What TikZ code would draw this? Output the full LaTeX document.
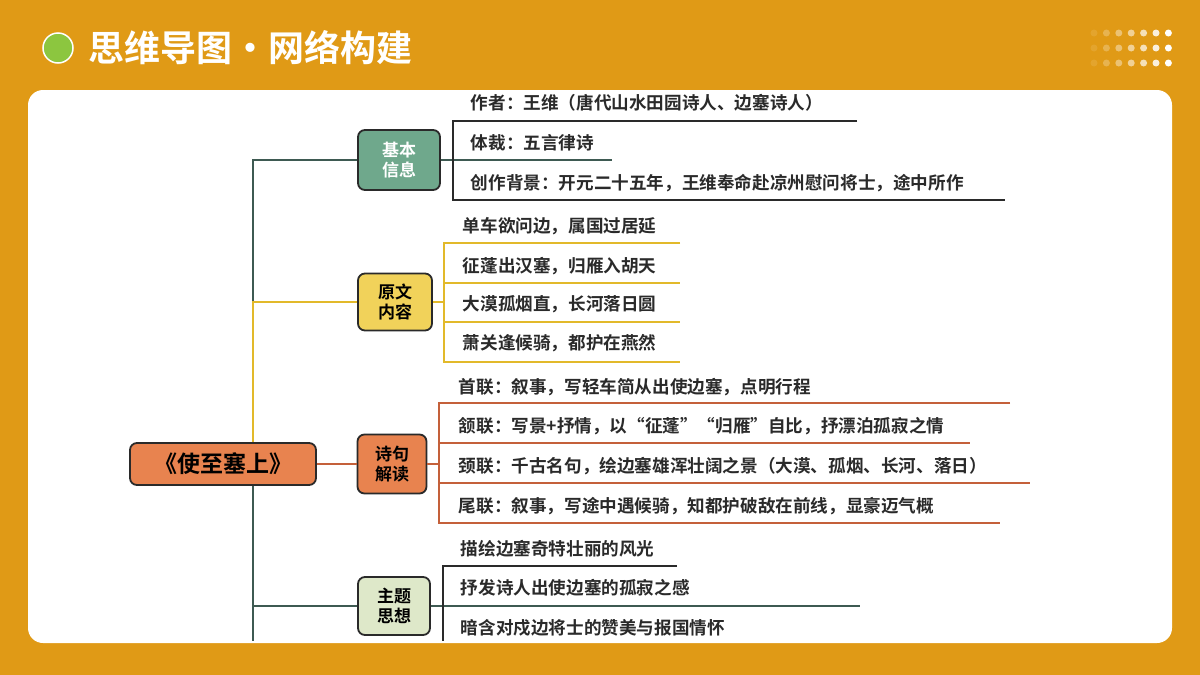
\documentclass[tikz,border=0pt]{standalone}
\usepackage{fontspec}
\setmainfont{Noto Sans CJK SC Bold}
\usetikzlibrary{positioning}
\definecolor{bgorange}{HTML}{E09A16}
\definecolor{infogreen}{HTML}{6FA88C}
\definecolor{textyellow}{HTML}{F1D25A}
\definecolor{readorange}{HTML}{E8834F}
\definecolor{themegreen}{HTML}{DEE8C9}
\definecolor{trunkgray}{HTML}{3E5A52}
\definecolor{lineyellow}{HTML}{E2B92A}
\definecolor{linered}{HTML}{C4603A}
\definecolor{inkdark}{HTML}{2A2A2A}
\definecolor{dotgreen}{HTML}{8CC63F}

\begin{document}
\begin{tikzpicture}[x=1pt,y=-1pt,line width=1.6pt]
  \tikzstyle{branch}=[draw=inkdark,line width=1.8pt,rounded corners=7pt,align=center,font=\fontsize{17}{20}\selectfont,inner sep=0pt]
  \tikzstyle{item}=[anchor=west,font=\fontsize{17.6}{20}\selectfont,text=inkdark,inner sep=0pt]

  \useasboundingbox (0,0) rectangle (1200,675);
  \fill[bgorange] (0,0) rectangle (1200,675);
  \fill[white,rounded corners=15pt] (28,90) rectangle (1172,643);

  % title bar
  \node[circle,fill=dotgreen,draw=white,line width=1.5pt,minimum size=30pt] (dot) at (58,48) {};
  \node[anchor=west,text=white,font=\fontsize{36}{40}\selectfont,inner sep=0pt] (title) at (88,48) {思维导图·网络构建};
  \foreach \i in {0,...,6}
    \foreach \j in {0,1,2}
      \fill[white,opacity=0.1+0.15*\i] (1094+12.4*\i,33+15*\j) circle (3.5pt);

  % root and branches
  \node[branch,fill=readorange,minimum width=186pt,minimum height=42pt,font=\fontsize{23}{26}\selectfont] (root) at (223,464) {《使至塞上》};
  \node[branch,fill=infogreen,text=white,minimum width=82pt,minimum height=60pt] (info) at (399,160) {基本\\信息};
  \node[branch,fill=textyellow,minimum width=74pt,minimum height=57pt] (text) at (395,302) {原文\\内容};
  \node[branch,fill=readorange,minimum width=69pt,minimum height=59pt] (read) at (392,464) {诗句\\解读};
  \node[branch,fill=themegreen,minimum width=72pt,minimum height=58pt] (theme) at (394,606) {主题\\思想};

  % trunk
  \coordinate (t1) at (253,160);
  \coordinate (t2) at (253,302);
  \coordinate (t4) at (253,606);
  \coordinate (tend) at (253,641);
  \draw[trunkgray] (info.west) -- (t1) -- (t2);
  \draw[lineyellow] (text.west) -- (t2) -- (t2 |- root.north);
  \draw[trunkgray] (t2 |- root.south) -- (t4) -- (theme.west);
  \draw[trunkgray] (t4) -- (tend);
  \draw[linered] (root.east) -- (read.west);

  % 基本信息
  \draw[trunkgray] (info.east) -- (612,160);
  \draw[inkdark] (857,121) -- (453,121) -- (453,200) -- (1005,200);
  \node[item] (i1) at (470,103) {作者：王维（唐代山水田园诗人、边塞诗人）};
  \node[item] (i2) at (470,143) {体裁：五言律诗};
  \node[item] (i3) at (470,183) {创作背景：开元二十五年，王维奉命赴凉州慰问将士，途中所作};

  % 原文内容
  \draw[lineyellow] (text.east) -- (444,302);
  \draw[lineyellow] (680,243) -- (444,243) -- (444,362) -- (680,362);
  \draw[lineyellow] (444,283) -- (680,283);
  \draw[lineyellow] (444,322) -- (680,322);
  \node[item] (o1) at (462,226) {单车欲问边，属国过居延};
  \node[item] (o2) at (462,266) {征蓬出汉塞，归雁入胡天};
  \node[item] (o3) at (462,304) {大漠孤烟直，长河落日圆};
  \node[item] (o4) at (462,343) {萧关逢候骑，都护在燕然};

  % 诗句解读
  \draw[linered] (read.east) -- (439,464);
  \draw[linered] (1010,403) -- (439,403) -- (439,523) -- (1000,523);
  \draw[linered] (439,443) -- (970,443);
  \draw[linered] (439,483) -- (1030,483);
  \node[item] (r1) at (458,387) {首联：叙事，写轻车简从出使边塞，点明行程};
  \node[item] (r2) at (458,426) {颔联：写景+抒情，以“征蓬”“归雁”自比，抒漂泊孤寂之情};
  \node[item] (r3) at (458,466) {颈联：千古名句，绘边塞雄浑壮阔之景（大漠、孤烟、长河、落日）};
  \node[item] (r4) at (458,506) {尾联：叙事，写途中遇候骑，知都护破敌在前线，显豪迈气概};

  % 主题思想
  \draw[trunkgray] (theme.east) -- (860,606);
  \draw[inkdark] (677,566) -- (443,566) -- (443,641);
  \node[item] (m1) at (460,549) {描绘边塞奇特壮丽的风光};
  \node[item] (m2) at (460,588) {抒发诗人出使边塞的孤寂之感};
  \node[item] (m3) at (460,628) {暗含对戍边将士的赞美与报国情怀};
\end{tikzpicture}
\end{document}
